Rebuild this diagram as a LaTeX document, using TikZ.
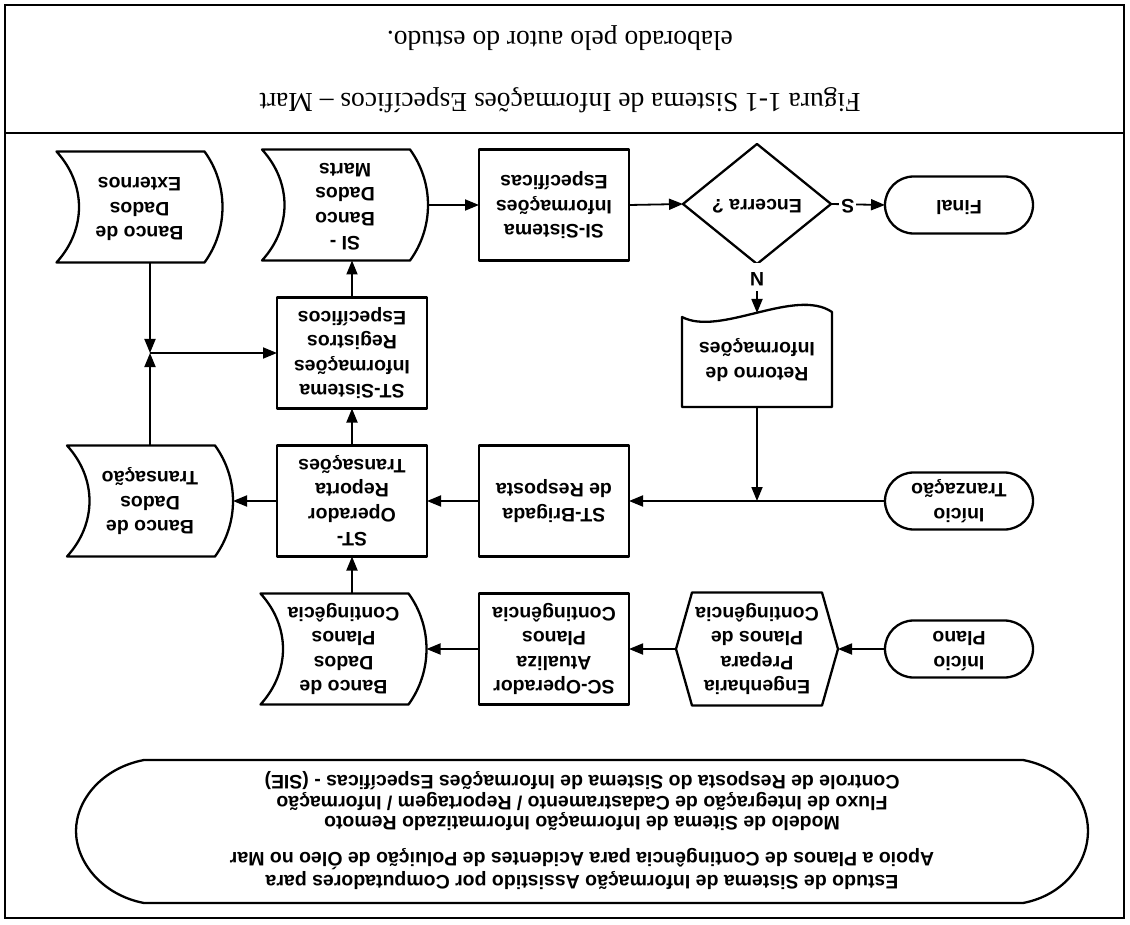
\documentclass[tikz,border=0pt]{standalone}
\usepackage{fontspec}
\usepackage{graphicx}
\usetikzlibrary{arrows.meta,shapes.misc,calc}
\setmainfont{Liberation Serif}
\newfontfamily\flowfont{Liberation Sans}
\newcommand\boxtext{\flowfont\bfseries\fontsize{19.5pt}{24.5pt}\selectfont}
\newcommand\titletext{\flowfont\bfseries\fontsize{19.5pt}{19.5pt}\selectfont}
\newcommand\captext{\rmfamily\fontsize{27.5pt}{32pt}\selectfont}
% the whole sheet is printed upside down: every text block is turned by 180 degrees
\newcommand\flip[1]{\rotatebox[origin=c]{180}{\begin{tabular}{@{}c@{}}#1\end{tabular}}}

\begin{document}
\begin{tikzpicture}[x=1pt, y=-1pt,
  every node/.style={inner sep=0pt, outer sep=0pt},
  edgeline/.style={draw, line width=2.3pt, line join=round},
  conn/.style={line width=1.8pt, -{Triangle[length=14pt,width=11pt]}},
  procbox/.style={edgeline, rectangle, minimum width=150pt, minimum height=111pt, font=\boxtext},
  storebox/.style={rectangle, minimum width=166pt, minimum height=111pt, font=\boxtext},
  terminal/.style={edgeline, rounded rectangle, minimum width=148pt, minimum height=57pt, font=\boxtext},
  lab/.style={fill=white, inner sep=2pt, font=\boxtext}]

\fill[white] (0,0) rectangle (1130,925);
\useasboundingbox (0,0) rectangle (1130,925);

% stored-data outline: concave side at the left, bulging side at the right
\newcommand\storeoutline[1]{%
  \draw[edgeline] (#1.north west) .. controls +(30,33) and +(30,-33) .. (#1.south west)
    -- ($(#1.south east)+(-18,0)$) .. controls +(24,-33) and +(24,33) .. ($(#1.north east)+(-18,0)$)
    -- cycle;}

% frame and caption
\draw[line width=2pt] (5,5) rectangle (1124,918);
\draw[line width=2pt] (5,133) -- (1124,133);
\node[font=\captext] (cap1) at (560,100) {\flip{Figura 1-1 Sistema de Informações Específicos – Mart}};
\node[font=\captext] (cap2) at (560,38) {\flip{elaborado pelo autor do estudo.}};

% process boxes
\node[procbox] (SIsis)  at (554,205) {\flip{SI-Sistema\\Informações\\Específicas}};
\node[procbox] (STsis)  at (352,353) {\flip{ST-Sistema\\Informações\\Registros\\Específicos}};
\node[procbox] (STop)   at (352,501) {\flip{ST-\\Operador\\Reporta\\Transações}};
\node[procbox] (STbrig) at (554,501) {\flip{ST-Brigada\\de Resposta}};
\node[procbox] (SCop)   at (554,649) {\flip{SC-Operador\\Atualiza\\Planos\\Contingência}};

% data stores
\node[storebox] (ext)    at (139.5,207) {\flip{Banco de\\Dados\\Externos}};
\node[storebox] (mart)   at (345,205)   {\flip{SI -\\Banco\\Dados\\Marts}};
\node[storebox] (trans)  at (150,501)   {\flip{Banco de\\Dados\\Transação}};
\node[storebox] (planos) at (343.5,649) {\flip{Banco de\\Dados\\Planos\\Contingêcia}};
\storeoutline{ext}
\storeoutline{mart}
\storeoutline{trans}
\storeoutline{planos}

% decision
\node[rectangle, minimum width=148pt, minimum height=120pt, font=\boxtext] (dia) at (757,204) {\flip{Encerra ?}};
\draw[edgeline] (dia.west) -- (dia.north) -- (dia.east) -- (dia.south) -- cycle;

% document with wavy edge
\node[rectangle, minimum width=150pt, minimum height=94pt, font=\boxtext] (ret) at (757,360)
  {\raisebox{-5pt}{\flip{Retorno de\\Informações}}};
\draw[edgeline] (682,317) .. controls (720,337) and (795,287) .. (832,312)
  -- (832,407) -- (682,407) -- cycle;

% preparation hexagon
\node[rectangle, minimum width=162pt, minimum height=113pt, font=\boxtext] (hex) at (757,649)
  {\flip{Engenharia\\Prepara\\Planos de\\Contingência}};
\draw[edgeline] (hex.west) -- ($(hex.north west)+(16,0)$) -- ($(hex.north east)+(-16,0)$)
  -- (hex.east) -- ($(hex.south east)+(-16,0)$) -- ($(hex.south west)+(16,0)$) -- cycle;

% terminals
\node[terminal] (fin)   at (959,205) {\flip{Final}};
\node[terminal] (tranz) at (959,501) {\flip{Início\\Tranzação}};
\node[terminal] (plano) at (959,649) {\flip{Início\\Plano}};

% connectors
\draw[conn] (mart.east) -- (SIsis.west);
\draw[conn] (SIsis.east) -- (dia.west);
\draw[conn] (dia.east) -- node[lab, pos=0.31] {\flip{S}} (fin.west);
\draw[conn] (dia.south) -- node[lab, pos=0.27] {\flip{N}} (ret.north);
\coordinate (j1) at (ret.south |- tranz.west);
\draw[conn] (ret.south) -- (j1);
\draw[conn] (tranz.west) -- (STbrig.east);
\draw[conn] (STbrig.west) -- (STop.east);
\draw[conn] (STop.west) -- (trans.east);
\draw[conn] (STop.north) -- (STsis.south);
\draw[conn] (STsis.north) -- (STsis.north |- mart.south);
\draw[conn] (STop.south |- planos.north) -- (STop.south);
\draw[conn] (plano.west) -- (hex.east);
\draw[conn] (hex.west) -- (SCop.east);
\draw[conn] (SCop.west) -- (planos.east);
\coordinate (j2) at (trans.north |- STsis.west);
\draw[conn] (ext.south -| j2) -- (j2);
\draw[conn] (trans.north) -- (j2);
\draw[conn] (j2) -- (STsis.west);

% title block
\node[font=\titletext] (est) at (582,830) {\flip{Estudo de Sistema de Informação Assistido por Computadores para\\
  Apoio a Planos de Contingência para Acidentes de Poluição de Óleo no Mar\\[16.5pt]
  Modelo de Sitema de Informação Informatizado Remoto\\
  Fluxo de Integração de Cadastramento / Reportagem / Informação\\
  Controle de Resposta do Sistema de Informações Específicas - (SIE)}};
\draw[edgeline] (144,760) -- (1023,760) .. controls (1065,768) and (1088,800) .. (1088,831)
  .. controls (1088,862) and (1065,895) .. (1023,903) -- (144,903)
  .. controls (102,895) and (76,862) .. (76,831) .. controls (76,800) and (102,768) .. (144,760) -- cycle;

\end{tikzpicture}
\end{document}
